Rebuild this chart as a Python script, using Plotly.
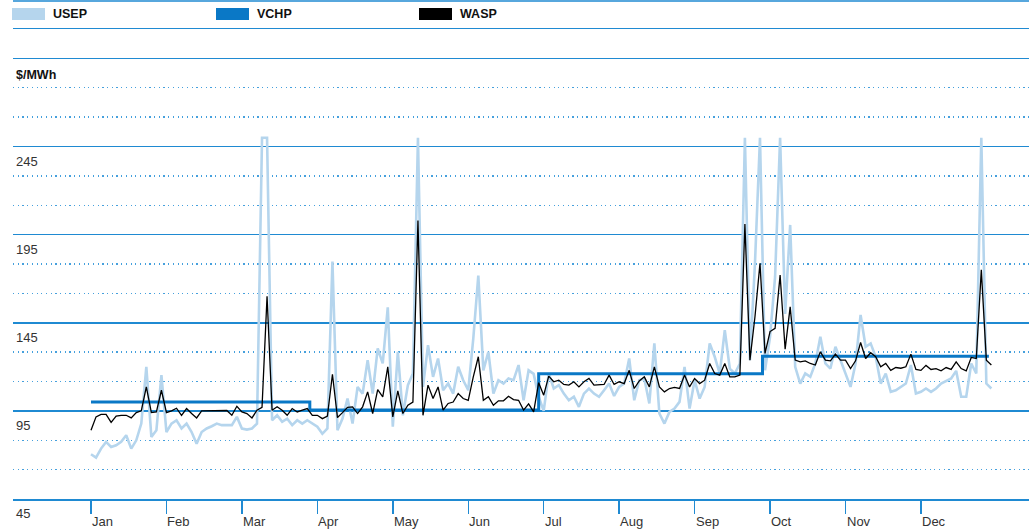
import plotly.graph_objects as go

# ---------------- data ----------------
month_labels = ["Jan", "Feb", "Mar", "Apr", "May", "Jun",
                "Jul", "Aug", "Sep", "Oct", "Nov", "Dec"]
month_start_day = [0, 30, 60, 90, 120, 150, 180, 210, 240, 270, 300, 330]

# sample days (every second day of the year)
sample_days = list(range(0, 359, 2))

wasp = [
    84, 91.6, 93, 93, 88.5, 92, 92.5, 92.5, 91, 94,
    95, 108.6, 94, 94.4, 106.7, 94, 95, 96.5, 92.5, 96.3,
    93.5, 91, 95, 95, 95, 95.3, 95, 95.2, 92.5, 97.6,
    94.4, 93.5, 91, 95.4, 97, 160, 95.4, 97.3, 95.4, 92.5,
    96.3, 94.4, 95.4, 96.3, 92.5, 92.5, 90.6, 92, 115.8, 91.2,
    94, 97, 97.3, 93.5, 97.3, 105.8, 93.5, 107, 103, 120,
    91.6, 106.4, 93.5, 98.2, 100, 203, 92.5, 109.6, 102, 108.6,
    95.4, 99.2, 100, 104.8, 102, 101, 114.3, 125.7, 101, 103,
    98.2, 100.7, 100.7, 103.3, 101.4, 101, 95.4, 99, 94.4, 111,
    103.9, 114.7, 111.5, 112.4, 110, 109.6, 111.5, 108.6, 111.5, 113.4,
    109.6, 110, 110, 115.3, 110, 111.5, 110.5, 118, 107.7, 112,
    114.3, 108.6, 120, 108.6, 105.8, 107.7, 108.3, 107.7, 115.3, 108.6,
    113.4, 110.5, 112.4, 121.9, 116.2, 115.3, 121.9, 114.3, 114.3, 115.3,
    201, 123.8, 148.4, 178.7, 127.6, 140, 141.8, 172, 130, 154,
    123.8, 122.8, 123.4, 121.9, 121, 128.5, 123.8, 123.4, 127.2, 123.8,
    123.8, 119, 123.4, 133.8, 124.7, 128, 125.7, 120, 121.9, 118,
    119.6, 119.2, 120, 127.2, 118.5, 118, 120.8, 118.5, 119, 117.7,
    119.6, 118.5, 122.8, 119, 117.7, 125.3, 124.7, 175, 123.8, 121,
]

usep = [
    70.4, 68.5, 73.6, 77.4, 74.5, 75.5, 77.4, 81.2, 73.6, 78.3,
    87.8, 120, 80.2, 84, 115.3, 83, 87.8, 89.7, 85, 87.8,
    83, 76.4, 83, 85, 86.3, 87.8, 86.9, 86.9, 86.9, 91.6,
    85, 84.4, 85, 87.8, 250, 250, 89.7, 92.5, 88.8, 90.6,
    86.9, 89.7, 87.8, 89.7, 87.8, 86, 82, 85, 179.7, 84,
    90.6, 102, 87.8, 108.6, 104.8, 123.8, 104.8, 130.4, 121.9, 153.7,
    86, 128.5, 92.5, 109.6, 116.2, 250, 108.6, 132.3, 114.3, 124.7,
    106.7, 110.5, 104.8, 120, 112.4, 106.7, 136, 171.7, 118, 128.5,
    104.8, 112.4, 110.5, 113.4, 112.4, 121, 101, 118, 116, 103,
    95, 116.2, 107.7, 109.6, 104.8, 101, 103, 97.3, 104.8, 107.7,
    104.8, 103, 106.7, 110.5, 103.5, 108.6, 110.5, 124.7, 101, 112.4,
    113.4, 99.2, 133.3, 93.5, 87.8, 94.4, 96.3, 100.1, 120, 96.3,
    112.4, 102, 108.6, 133.3, 125.7, 116.2, 140.8, 119, 116.2, 121.9,
    250, 123.8, 178.7, 250, 118, 137, 171, 250, 150, 200.5,
    120, 110.5, 116.2, 114.3, 121.9, 137, 121.9, 119, 131.4, 123.8,
    115.3, 108.6, 121.9, 149.4, 131.4, 133.3, 125.7, 110.5, 116.2, 105.8,
    106.7, 108.6, 110.5, 121, 104.8, 105.8, 107.7, 105.8, 107.7, 110.5,
    112, 113.4, 117.7, 103, 103, 121.9, 116.2, 250, 110.5, 107.7,
]

# VCHP is a step series: value holds from each change day onward
vchp_change_days = [0, 87, 178, 267, 357]
vchp_values = [100, 95.5, 116, 126, 126]

y_label_values = [45, 95, 145, 195, 245]

# ---------------- styling ----------------
C_USEP = "#b5d5ed"
C_VCHP = "#0a78c6"
C_WASP = "#000000"
C_GRID = "#1f8ad2"
C_DOT = "#45a0dd"
FONT = "Liberation Sans, Arial, Helvetica, sans-serif"

W, H = 1029, 531
ML, MR, MT, MB = 13, 0, 29, 32
PW, PH = W - ML - MR, H - MT - MB


def px_x(px):
    return (px - ML) / PW


def px_y(py):
    return (H - MB - py) / PH


fig = go.Figure()
fig.add_trace(go.Scatter(x=sample_days, y=usep, mode="lines",
                         line=dict(color=C_USEP, width=2.6), name="USEP",
                         showlegend=False))
fig.add_trace(go.Scatter(x=vchp_change_days, y=vchp_values, mode="lines",
                         line=dict(color=C_VCHP, width=3, shape="hv"),
                         name="VCHP", showlegend=False))
fig.add_trace(go.Scatter(x=sample_days, y=wasp, mode="lines",
                         line=dict(color=C_WASP, width=1.3), name="WASP",
                         showlegend=False))

shapes = []
annotations = []

# top rule above the legend
shapes.append(dict(type="line", xref="paper", yref="paper",
                   x0=0, x1=1, y0=px_y(1), y1=px_y(1),
                   line=dict(color=C_GRID, width=1.5)))

# legend swatches and labels
legend_items = [("USEP", C_USEP, 12), ("VCHP", C_VCHP, 216), ("WASP", C_WASP, 419)]
for name, col, x0 in legend_items:
    shapes.append(dict(type="rect", xref="paper", yref="paper",
                       x0=px_x(x0), x1=px_x(x0 + 33), y0=px_y(20), y1=px_y(8),
                       fillcolor=col, line=dict(width=0)))
    annotations.append(dict(text=f"<b>{name}</b>", xref="paper", yref="paper",
                            x=px_x(x0 + 39), y=px_y(14), xanchor="left",
                            yanchor="middle", showarrow=False,
                            font=dict(family=FONT, size=12.5, color="#111")))

# unit label
annotations.append(dict(text="<b>$/MWh</b>", xref="paper", yref="paper",
                        x=px_x(14), y=px_y(75), xanchor="left", yanchor="middle",
                        showarrow=False,
                        font=dict(family=FONT, size=12.5, color="#111")))

# y value labels (below their grid lines)
for v in y_label_values:
    annotations.append(dict(text=str(v), xref="paper", yref="y", x=px_x(14),
                            y=v, yshift=-14.5, xanchor="left", yanchor="middle",
                            showarrow=False,
                            font=dict(family=FONT, size=13, color="#333")))

# month labels, left-aligned to their tick
for d, lab in zip(month_start_day, month_labels):
    annotations.append(dict(text=lab, xref="x", yref="paper", x=d, y=0,
                            yshift=-22, xshift=-1, xanchor="left",
                            yanchor="middle", showarrow=False,
                            font=dict(family=FONT, size=13, color="#333")))

x0_day = -(91 - ML) / 2.515
x1_day = x0_day + PW / 2.515

fig.update_layout(
    width=W, height=H,
    margin=dict(l=ML, r=MR, t=MT, b=MB, pad=0),
    paper_bgcolor="white", plot_bgcolor="white",
    font=dict(family=FONT),
    shapes=shapes, annotations=annotations,
    showlegend=False,
    xaxis=dict(range=[x0_day, x1_day], tickvals=month_start_day,
               showticklabels=False, ticks="outside", ticklen=13,
               tickcolor=C_GRID, tickwidth=1.5, showgrid=False,
               showline=True, linecolor=C_GRID, linewidth=1.5, mirror=True,
               zeroline=False, fixedrange=True),
    yaxis=dict(range=[45, 45 + 16 * 50 / 3], tick0=45, dtick=50,
               showticklabels=False, ticks="", showgrid=True,
               gridcolor=C_GRID, gridwidth=1.5, zeroline=False,
               showline=False, fixedrange=True,
               minor=dict(tick0=45, dtick=50 / 3, showgrid=True,
                          gridcolor=C_DOT, gridwidth=1.4,
                          griddash="1.2px,3.5px")),
)

fig.write_html(
    "out.html",
    config={"displayModeBar": False, "staticPlot": True},
    post_script="document.body.style.margin='0';document.body.style.overflow='hidden';",
)
